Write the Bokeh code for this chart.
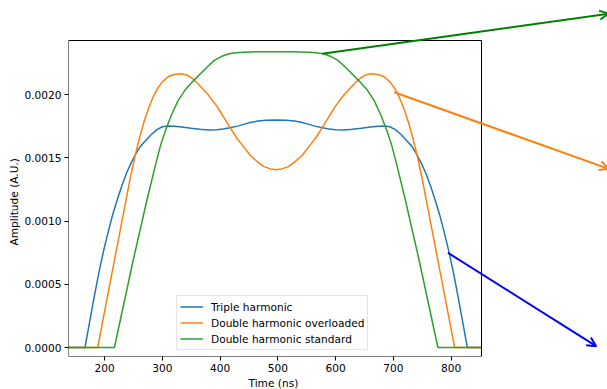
from bokeh.plotting import figure
from bokeh.models import (Arrow, OpenHead, FixedTicker, PrintfTickFormatter, Range1d,
                          BoxAnnotation, Title)
from bokeh.embed import file_html
from bokeh.resources import INLINE

# ---- data ----
t_triple = [137.5, 166, 174, 182, 190, 198, 206, 214, 222, 230, 238, 246, 254, 262, 270,
            280, 290, 300, 310, 320, 330, 340, 350, 365, 380, 394, 405, 417, 430, 442,
            452, 465, 480, 497, 514, 529, 542, 552, 564, 577, 589, 600, 614, 629, 644,
            654, 664, 674, 684, 694, 704, 714, 724, 732, 740, 748, 756, 764, 772, 780,
            788, 796, 804, 812, 820, 828, 852.5]
a_triple = [0, 0, 0.00020, 0.00040, 0.00059, 0.00076, 0.00091, 0.00105, 0.00117, 0.00128,
            0.00138, 0.00146, 0.00153, 0.00159, 0.00163, 0.00168, 0.00172, 0.001745,
            0.001752, 0.00175, 0.001745, 0.00174, 0.001733, 0.001726, 0.00172, 0.001721,
            0.001727, 0.001737, 0.00175, 0.001766, 0.001778, 0.00179, 0.001796, 0.001798,
            0.001796, 0.00179, 0.001778, 0.001766, 0.00175, 0.001737, 0.001727, 0.001721,
            0.00172, 0.001726, 0.001733, 0.00174, 0.001745, 0.00175, 0.001752, 0.001745,
            0.00172, 0.00168, 0.00163, 0.00159, 0.00153, 0.00146, 0.00138, 0.00128,
            0.00117, 0.00105, 0.00091, 0.00076, 0.00059, 0.00040, 0.00020, 0, 0]

t_over = [137.5, 188, 196, 204, 212, 220, 228, 236, 244, 252, 260, 268, 276, 284, 292,
          300, 310, 320, 332, 344, 354, 365, 379, 394, 405, 417, 428, 440, 452, 464,
          476, 487, 497, 507, 518, 530, 542, 554, 566, 577, 589, 600, 615, 629, 640,
          650, 662, 674, 684, 694, 702, 710, 718, 726, 734, 742, 750, 758, 766, 774,
          782, 790, 798, 806, 852.5]
a_over = [0, 0, 0.00019, 0.00038, 0.00057, 0.00076, 0.00095, 0.00114, 0.00133, 0.00150,
          0.00165, 0.00178, 0.00189, 0.00198, 0.00205, 0.00210, 0.00214, 0.002158,
          0.002164, 0.002152, 0.00212, 0.00207, 0.00200, 0.00191, 0.00183, 0.00174,
          0.00166, 0.00159, 0.00152, 0.00147, 0.00143, 0.001412, 0.001405, 0.001412,
          0.00143, 0.00147, 0.00152, 0.00159, 0.00166, 0.00174, 0.00183, 0.00191,
          0.00200, 0.00207, 0.00212, 0.002152, 0.002164, 0.002158, 0.00214, 0.00210,
          0.00205, 0.00198, 0.00189, 0.00178, 0.00165, 0.00150, 0.00133, 0.00114,
          0.00095, 0.00076, 0.00057, 0.00038, 0.00019, 0, 0]

t_std = [137.5, 217, 225, 233, 241, 249, 257, 265, 273, 281, 289, 297, 305, 315, 327,
         340, 352, 365, 378, 390, 402, 415, 428, 440, 455, 470, 497, 524, 539, 554,
         566, 579, 592, 604, 616, 629, 642, 654, 667, 679, 689, 697, 705, 713, 721,
         729, 737, 745, 753, 761, 769, 777, 852.5]
a_std = [0, 0, 0.00017, 0.00034, 0.00051, 0.00068, 0.00084, 0.00100, 0.00116, 0.00131,
         0.00146, 0.00160, 0.00171, 0.00183, 0.00195, 0.00204, 0.00210, 0.00216,
         0.00222, 0.00227, 0.00230, 0.002322, 0.00233, 0.002335, 0.002337, 0.002338,
         0.002338, 0.002338, 0.002337, 0.002335, 0.00233, 0.002322, 0.00230, 0.00227,
         0.00222, 0.00216, 0.00210, 0.00204, 0.00195, 0.00183, 0.00171, 0.00160,
         0.00146, 0.00131, 0.00116, 0.00100, 0.00084, 0.00068, 0.00051, 0.00034,
         0.00017, 0, 0]

x_ticks = [200, 300, 400, 500, 600, 700, 800]
y_ticks = [0.0, 0.0005, 0.0010, 0.0015, 0.0020]

# axes box (data limits shown in the reference)
x_lo, x_hi = 137.5, 852.5
y_lo, y_hi = -0.0000711, 0.002427

# arrows: (x_start, y_start, x_end, y_end)
arrow_green = (576.9, 0.002322, 1072.5, 0.002638)
arrow_orange = (701.4, 0.002018, 1072.5, 0.001413)
arrow_blue = (794.3, 0.000749, 1051.0, 0.0000103)

FONT = "DejaVu Sans"
FS = "10.6px"

# frame extends to the right and top edges of the canvas so that the arrows are not clipped
px_per_x = 413.0 / (x_hi - x_lo)
px_per_y = 316.0 / (y_hi - y_lo)
x_end_range = x_lo + 539.0 / px_per_x
y_end_range = y_lo + 356.0 / px_per_y

p = figure(width=607, height=389, output_backend="svg", toolbar_location=None,
           x_range=Range1d(x_lo, x_end_range), y_range=Range1d(y_lo, y_end_range),
           min_border_left=68, min_border_right=0, min_border_top=0,
           min_border_bottom=33)
p.outline_line_color = None
p.xgrid.visible = False
p.ygrid.visible = False

p.line(t_triple, a_triple, line_color="#1f77b4", line_width=1.5, legend_label="Triple harmonic")
p.line(t_over, a_over, line_color="#ff7f0e", line_width=1.5, legend_label="Double harmonic overloaded")
p.line(t_std, a_std, line_color="#2ca02c", line_width=1.5, legend_label="Double harmonic standard")

p.add_layout(BoxAnnotation(left=x_lo, right=x_hi, bottom=y_lo, top=y_hi,
                           fill_color=None, fill_alpha=0, line_color="black",
                           line_width=1, line_alpha=1))

for (xs, ys, xe, ye), col in [(arrow_green, "#008000"), (arrow_orange, "#ff7f0e"), (arrow_blue, "#0000ff")]:
    p.add_layout(Arrow(x_start=xs, y_start=ys, x_end=xe, y_end=ye,
                       line_color=col, line_width=2,
                       end=OpenHead(size=9, line_color=col, line_width=2)))

for ax in (p.xaxis[0], p.yaxis[0]):
    ax.axis_line_color = None
    ax.major_tick_line_color = "black"
    ax.major_tick_out = 4
    ax.major_tick_in = 0
    ax.minor_tick_line_color = None
    ax.major_label_text_font = FONT
    ax.major_label_text_font_size = FS
    ax.major_label_text_color = "black"
    ax.major_label_standoff = 3

p.xaxis[0].ticker = FixedTicker(ticks=x_ticks)
p.yaxis[0].ticker = FixedTicker(ticks=y_ticks)
p.yaxis[0].formatter = PrintfTickFormatter(format="%.4f")

# axis titles, placed so that they are centred on the axes box
p.add_layout(Title(text="Time (ns)", align="left", offset=180, standoff=0,
                   text_font=FONT, text_font_size=FS, text_font_style="normal",
                   text_color="black"), "below")
p.add_layout(Title(text="Amplitude (A.U.)", align="left", offset=111, standoff=4,
                   text_font=FONT, text_font_size=FS, text_font_style="normal",
                   text_color="black"), "left")

lg = p.legend[0]
lg.location = (108, 6)
lg.label_text_font = FONT
lg.label_text_font_size = FS
lg.label_text_color = "black"
lg.border_line_color = "#cccccc"
lg.border_line_width = 1
lg.background_fill_alpha = 0.8
lg.padding = 3
lg.margin = 0
lg.spacing = 1
lg.glyph_width = 23
lg.glyph_height = 15
lg.label_height = 15
lg.label_standoff = 8

open("out.html", "w").write(file_html(p, INLINE))
